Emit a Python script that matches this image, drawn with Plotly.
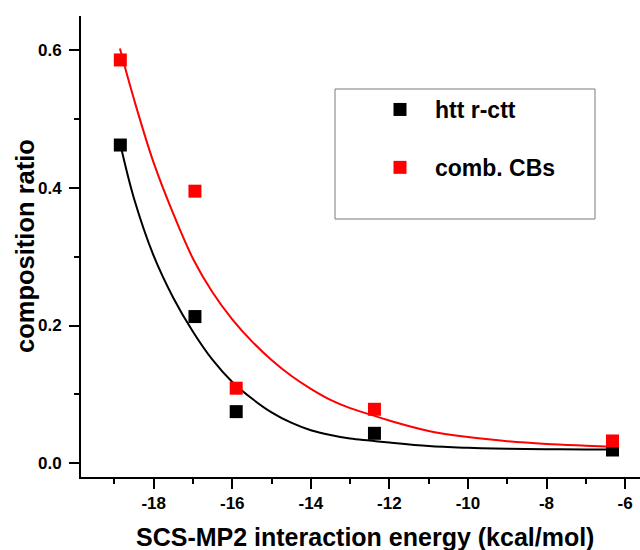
import plotly.graph_objects as go

# ---- data ----
energy = [-18.85, -16.95, -15.9, -12.38, -6.32]
ratio_htt = [0.462, 0.213, 0.075, 0.0435, 0.0193]
ratio_comb = [0.5855, 0.395, 0.109, 0.0784, 0.0324]

# fitted curves at regular steps
fit_x_htt = [-18.85, -18.5, -18.0, -17.5, -17.0, -16.5, -16.0, -15.5, -15.0,
             -14.5, -14.0, -13.5, -13.0, -12.5, -12.0, -11.0, -10.0, -9.0,
             -8.0, -7.0, -6.33]
fit_y_htt = [0.463, 0.384, 0.301, 0.240, 0.191, 0.150, 0.118, 0.094, 0.074,
             0.059, 0.048, 0.041, 0.036, 0.033, 0.030, 0.025, 0.0225, 0.021,
             0.0205, 0.0202, 0.0200]

fit_x_comb = [-18.86, -18.5, -18.0, -17.5, -17.0, -16.5, -16.0, -15.5, -15.0,
              -14.5, -14.0, -13.5, -13.0, -12.5, -12.0, -11.0, -10.0, -9.0,
              -8.0, -7.0, -6.33]
fit_y_comb = [0.602, 0.528, 0.436, 0.362, 0.297, 0.248, 0.209, 0.177, 0.150,
              0.127, 0.108, 0.092, 0.080, 0.071, 0.062, 0.047, 0.038, 0.032,
              0.028, 0.0255, 0.024]

series_names = ["htt r-ctt", "comb. CBs"]
x_tickvals = [-18, -16, -14, -12, -10, -8, -6]
x_ticktext = ["-18", "-16", "-14", "-12", "-10", "-8", "-6"]
y_tickvals = [0.0, 0.2, 0.4, 0.6]
y_ticktext = ["0.0", "0.2", "0.4", "0.6"]
x_title = "SCS-MP2 interaction energy (kcal/mol)"
y_title = "composition ratio"

FONT = "Liberation Sans, Arial, sans-serif"
W, H = 640, 550
ML, MR, MT, MB = 81, 0, 16, 73
PW, PH = W - ML - MR, H - MT - MB


def px_x(p):
    return (p - ML) / PW


def px_y(p):
    return (H - MB - p) / PH


fig = go.Figure()

fig.add_trace(go.Scatter(x=fit_x_htt, y=fit_y_htt, mode="lines",
                         line=dict(color="black", width=2, shape="spline", smoothing=1),
                         showlegend=False, hoverinfo="skip"))
fig.add_trace(go.Scatter(x=fit_x_comb, y=fit_y_comb, mode="lines",
                         line=dict(color="#ff0000", width=2, shape="spline", smoothing=1),
                         showlegend=False, hoverinfo="skip"))
fig.add_trace(go.Scatter(x=energy, y=ratio_htt, mode="markers", name=series_names[0],
                         legendgroup="a",
                         marker=dict(symbol="square", size=13, color="black",
                                     line=dict(width=0))))
fig.add_trace(go.Scatter(x=energy, y=ratio_comb, mode="markers", name=series_names[1],
                         legendgroup="b",
                         marker=dict(symbol="square", size=13, color="#ff0000",
                                     line=dict(width=0))))

axis_common = dict(
    showline=True, linecolor="black", linewidth=2, mirror=False,
    showgrid=False, zeroline=False,
    ticks="outside", ticklen=10, tickwidth=2, tickcolor="black",
    tickmode="array",
    tickfont=dict(family=FONT, size=17, color="black", weight="bold"),
)

fig.update_xaxes(range=[-19.851, -5.62], tickvals=x_tickvals, ticktext=x_ticktext,
                 minor=dict(tickmode="linear", tick0=-19, dtick=2, ticks="outside",
                            ticklen=5, tickwidth=2, tickcolor="black"),
                 **axis_common)
fig.update_yaxes(range=[-0.0199, 0.6493], tickvals=y_tickvals, ticktext=y_ticktext,
                 ticklabelstandoff=4,
                 minor=dict(tickmode="linear", tick0=0.1, dtick=0.2, ticks="outside",
                            ticklen=5, tickwidth=2, tickcolor="black"),
                 **axis_common)

fig.add_annotation(text=x_title, xref="paper", yref="paper",
                   x=px_x(365.3), y=px_y(536.7), xanchor="center", yanchor="middle",
                   showarrow=False,
                   font=dict(family=FONT, size=25, color="black", weight="bold"))
fig.add_annotation(text=y_title, xref="paper", yref="paper",
                   x=px_x(24.5), y=px_y(246.5), xanchor="center", yanchor="middle",
                   textangle=-90, showarrow=False,
                   font=dict(family=FONT, size=25.5, color="black", weight="bold"))

# legend frame
fig.add_shape(type="rect", xref="paper", yref="paper",
              x0=px_x(335), x1=px_x(595), y0=px_y(219), y1=px_y(89),
              line=dict(color="#7a7a7a", width=1), fillcolor="rgba(0,0,0,0)")

fig.update_layout(
    width=W, height=H,
    margin=dict(l=ML, r=MR, t=MT, b=MB, pad=0),
    paper_bgcolor="white", plot_bgcolor="white",
    font=dict(family=FONT, color="black"),
    legend=dict(x=px_x(365), y=px_y(88), xanchor="left", yanchor="top",
                bgcolor="rgba(0,0,0,0)", borderwidth=0,
                font=dict(family=FONT, size=23, color="black", weight="bold"),
                itemwidth=60, traceorder="grouped", tracegroupgap=25),
)

fig.write_html("out.html")
